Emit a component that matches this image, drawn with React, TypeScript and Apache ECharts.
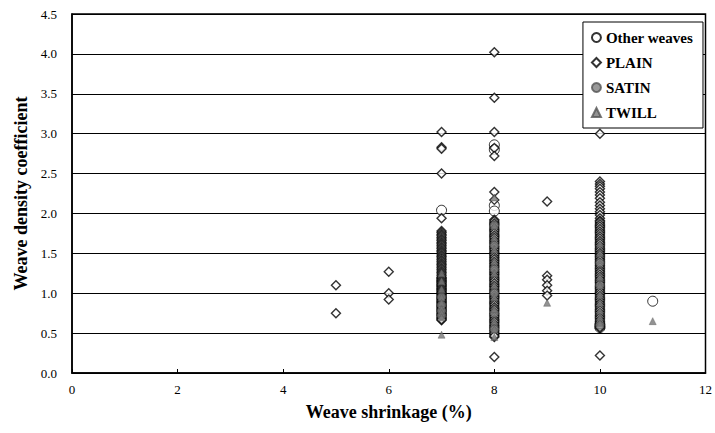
import React, { useEffect, useRef } from "react";
import * as echarts from "echarts";

// Weave shrinkage (%) -> weave density coefficient values, per weave type
const plain5 = [1.1, 0.75];
const plain6 = [1.27, 1.0, 0.92];
const plain7 = [3.02, 2.83, 2.81, 2.5, 1.94, 1.78, 1.76, 1.74, 1.72, 1.7, 1.68, 1.66, 1.64, 1.62, 1.6, 1.58, 1.56, 1.54, 1.52, 1.5, 1.48, 1.46, 1.44, 1.42, 1.4, 1.38, 1.36, 1.34, 1.32, 1.3, 1.28, 1.26, 1.24, 1.22, 1.2, 1.18, 1.16, 1.14, 1.12, 1.1, 1.08, 1.06, 1.04, 1.02, 1.0, 0.98, 0.96, 0.94, 0.92, 0.9, 0.88, 0.86, 0.84, 0.82, 0.8, 0.78, 0.76, 0.74, 0.72, 0.7, 0.68, 0.66];
const plain7b = [1.19, 1.17, 1.15, 1.13, 1.11, 1.09, 1.07, 1.05, 1.03, 1.01, 0.99, 0.97, 0.95, 0.93, 0.91, 0.89, 0.87, 0.85, 0.83, 0.81, 0.79, 0.77, 0.75, 0.73, 0.71, 0.69, 0.67];
const plain8 = [4.02, 3.45, 3.02, 2.82, 2.72, 2.27, 2.17, 1.92, 1.89, 1.86, 1.83, 1.8, 1.77, 1.74, 1.71, 1.68, 1.65, 1.62, 1.59, 1.56, 1.53, 1.5, 1.47, 1.44, 1.41, 1.38, 1.35, 1.32, 1.29, 1.26, 1.23, 1.2, 1.17, 1.14, 1.11, 1.08, 1.05, 1.02, 0.99, 0.96, 0.93, 0.9, 0.87, 0.84, 0.81, 0.78, 0.75, 0.72, 0.69, 0.66, 0.63, 0.6, 0.57, 0.54, 0.51, 0.48, 0.45, 0.2];
const plain8b = [1.905, 1.875, 1.845, 1.815, 1.785, 1.755, 1.725, 1.695, 1.665, 1.635, 1.605, 1.575, 1.545, 1.515, 1.485, 1.455, 1.425, 1.395, 1.365, 1.335, 1.305, 1.275, 1.245, 1.215, 1.185, 1.155, 1.125, 1.095, 1.065, 1.035, 1.005, 0.975, 0.945, 0.915, 0.885, 0.855, 0.825, 0.795, 0.765, 0.735, 0.705, 0.675, 0.645, 0.615, 0.585, 0.555, 0.525, 0.495, 0.465];
const plain9 = [2.15, 1.22, 1.17, 1.1, 1.03, 0.97];
const plain10 = [3.0, 2.4, 2.37, 2.34, 2.31, 2.27, 2.23, 2.19, 2.14, 2.1, 2.06, 2.02, 1.98, 1.94, 1.91, 1.88, 1.85, 1.82, 1.79, 1.76, 1.73, 1.7, 1.67, 1.64, 1.61, 1.58, 1.55, 1.52, 1.49, 1.46, 1.43, 1.4, 1.37, 1.34, 1.31, 1.28, 1.25, 1.22, 1.19, 1.16, 1.13, 1.1, 1.07, 1.04, 1.01, 0.98, 0.95, 0.92, 0.89, 0.86, 0.83, 0.8, 0.77, 0.74, 0.71, 0.68, 0.65, 0.62, 0.59, 0.56, 0.22];
const plain10b = [1.895, 1.865, 1.835, 1.805, 1.775, 1.745, 1.715, 1.685, 1.655, 1.625, 1.595, 1.565, 1.535, 1.505, 1.475, 1.445, 1.415, 1.385, 1.355, 1.325, 1.295, 1.265, 1.235, 1.205, 1.175, 1.145, 1.115, 1.085, 1.055, 1.025, 0.995, 0.965, 0.935, 0.905, 0.875, 0.845, 0.815, 0.785, 0.755, 0.725, 0.695, 0.665, 0.635, 0.605, 0.575];

const other7 = [2.04];
const other8 = [2.86, 2.8, 2.1, 2.03];
const other10 = [0.6, 0.57];
const other11 = [0.9];

const satin7 = [0.72, 0.78, 0.85, 0.95];
const satin8 = [1.85, 1.6, 1.3, 1.0, 0.75, 0.55];
const satin10 = [1.38, 1.1, 0.6];

const twill7 = [1.25, 1.15, 1.05, 0.95, 0.88, 0.8, 0.75, 0.7, 0.48];
const twill8 = [2.2, 1.85, 1.7, 1.55, 1.4, 1.25, 1.1, 0.95, 0.8, 0.65, 0.55, 0.45];
const twill9 = [0.88];
const twill10 = [1.62, 1.5, 1.2, 1.1, 0.98, 0.88, 0.78, 0.7, 0.63];
const twill11 = [0.65];

const yTicks = [0, 0.5, 1, 1.5, 2, 2.5, 3, 3.5, 4, 4.5];

const pts = (x: number, ys: number[]) => ys.map((y) => [x, y]);

const FONT = "'Liberation Serif', 'Times New Roman', serif";

export default function App() {
  const ref = useRef<HTMLDivElement>(null);
  useEffect(() => {
    if (!ref.current) return;
    const chart = echarts.init(ref.current, undefined, { renderer: "svg" });
    chart.setOption({
      animation: false,
      textStyle: { fontFamily: FONT },
      grid: {
        left: 72,
        right: 7,
        top: 14,
        bottom: 60,
        show: true,
        borderColor: "#000",
        borderWidth: 1.5,
        backgroundColor: "#fff",
      },
      legend: {
        orient: "vertical",
        right: 12,
        top: 22,
        backgroundColor: "#fff",
        borderColor: "#000",
        borderWidth: 1,
        borderRadius: 0,
        padding: [8, 10, 8, 8],
        itemGap: 10,
        itemWidth: 9,
        itemHeight: 9,
        textStyle: { fontFamily: FONT, fontWeight: "bold", fontSize: 15, color: "#000" },
        data: [
          { name: "Other weaves", icon: "circle" },
          { name: "PLAIN", icon: "diamond" },
          { name: "SATIN", icon: "circle" },
          { name: "TWILL", icon: "triangle" },
        ],
      },
      xAxis: {
        type: "value",
        min: 0,
        max: 12,
        interval: 2,
        name: "Weave shrinkage (%)",
        nameLocation: "middle",
        nameGap: 30,
        nameTextStyle: { fontFamily: FONT, fontWeight: "bold", fontSize: 18, color: "#000" },
        axisLine: { lineStyle: { color: "#000", width: 1.5 } },
        axisTick: { inside: true, length: 4, lineStyle: { color: "#000" } },
        axisLabel: {
          fontFamily: FONT,
          fontSize: 13,
          color: "#000",
          margin: 10,
          showMaxLabel: true,
          hideOverlap: false,
          overflow: "none",
        },
        splitLine: { show: false },
      },
      yAxis: {
        type: "value",
        min: 0,
        max: 4.5,
        interval: 0.5,
        name: "Weave density coefficient",
        nameLocation: "middle",
        nameGap: 42,
        nameTextStyle: { fontFamily: FONT, fontWeight: "bold", fontSize: 18, color: "#000" },
        axisLine: { lineStyle: { color: "#000", width: 1.5 } },
        axisTick: { show: false },
        axisLabel: {
          fontFamily: FONT,
          fontSize: 13,
          color: "#000",
          margin: 15,
          formatter: (v: number) => (yTicks.includes(v) ? v.toFixed(1) : ""),
        },
        splitLine: { show: true, lineStyle: { color: "#000", width: 1 } },
      },
      series: [
        {
          name: "Other weaves",
          type: "scatter",
          symbol: "circle",
          symbolSize: 10,
          itemStyle: { color: "#fff", borderColor: "#000", borderWidth: 1 },
          data: [...pts(7, other7), ...pts(8, other8), ...pts(10, other10), ...pts(11, other11)],
        },
        {
          name: "PLAIN",
          type: "scatter",
          symbol: "diamond",
          symbolSize: 9,
          itemStyle: { color: "#fff", borderColor: "#000", borderWidth: 1.4 },
          data: [
            ...pts(5, plain5),
            ...pts(6, plain6),
            ...pts(7, plain7),
            ...pts(7, plain7b),
            ...pts(8, plain8),
            ...pts(8, plain8b),
            ...pts(9, plain9),
            ...pts(10, plain10),
            ...pts(10, plain10b),
          ],
        },
        {
          name: "SATIN",
          type: "scatter",
          symbol: "circle",
          symbolSize: 8,
          itemStyle: { color: "#808080", borderColor: "#555", borderWidth: 1 },
          data: [...pts(7, satin7), ...pts(8, satin8), ...pts(10, satin10)],
        },
        {
          name: "TWILL",
          type: "scatter",
          symbol: "triangle",
          symbolSize: 7,
          itemStyle: { color: "#777", borderColor: "#555", borderWidth: 0.5 },
          data: [
            ...pts(7, twill7),
            ...pts(8, twill8),
            ...pts(9, twill9),
            ...pts(10, twill10),
            ...pts(11, twill11),
          ],
        },
      ],
    });
    return () => chart.dispose();
  }, []);
  return (
    <div
      ref={ref}
      style={{ position: "absolute", left: 0, top: 0, width: 715, height: 433 }}
    />
  );
}
